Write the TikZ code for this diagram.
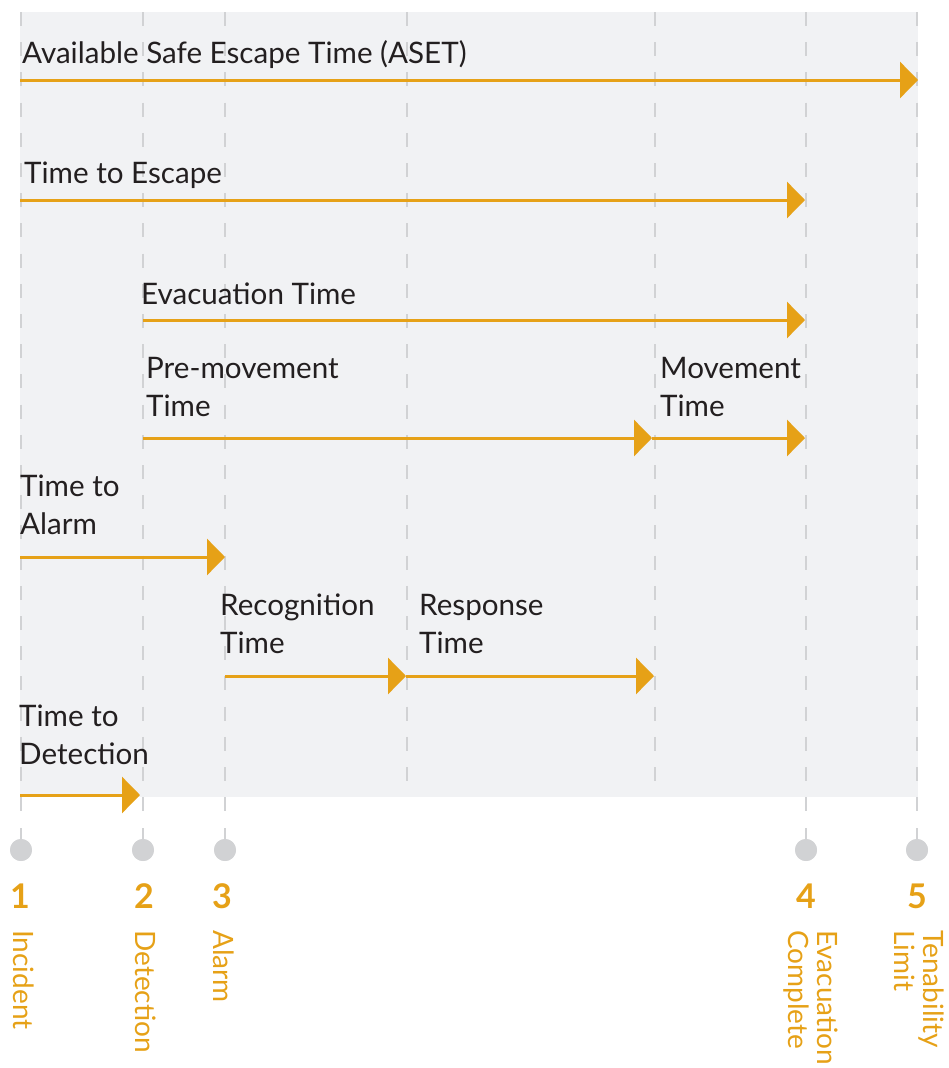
\documentclass[tikz,border=0pt]{standalone}
\usepackage{fontspec}
\setmainfont{Lato}
\usetikzlibrary{arrows.meta}
\definecolor{bgc}{HTML}{F1F2F4}
\definecolor{orc}{HTML}{E6A117}
\definecolor{gridc}{HTML}{D1D2D4}
\definecolor{txc}{HTML}{231F20}
\begin{document}
\begin{tikzpicture}[x=1pt,y=-1pt,
  lbl/.style={anchor=base west,inner sep=0pt,text=txc,align=left,
    font=\fontsize{29.6}{38}\selectfont},
  span/.style={draw=orc,line width=3pt,-{Triangle[length=18pt,width=36pt]}},
  gridln/.style={draw=gridc,line width=2.6pt,dash pattern=on 14pt off 16.2pt},
  stem/.style={draw=gridc,line width=2.6pt},
  evdot/.style={circle,fill=gridc,minimum size=22pt,inner sep=0pt},
  num/.style={anchor=base,inner sep=0pt,text=orc,font=\fontsize{34}{34}\selectfont\bfseries},
  evt/.style={anchor=base west,inner sep=0pt,text=orc,rotate=-90,align=left,
    font=\fontsize{28}{29}\selectfont}]
\useasboundingbox (0,0) rectangle (949,1068);
\fill[bgc] (20,12) rectangle (918,797);
% column coordinates
\coordinate (t1) at (21,12);  \coordinate (b1) at (21,813);
\coordinate (t2) at (143,12); \coordinate (b2) at (143,813);
\coordinate (t3) at (225,12); \coordinate (b3) at (225,813);
\coordinate (ta) at (407,12); \coordinate (ba) at (407,797);
\coordinate (tb) at (655,12); \coordinate (bb) at (655,797);
\coordinate (t4) at (806,12); \coordinate (b4) at (806,813);
\coordinate (t5) at (917,12); \coordinate (b5) at (917,813);
\foreach \c in {1,2,3,a,b,4,5} \draw[gridln] (t\c) -- (b\c);
% event dots
\node[evdot] (e1) at (21,850) {};
\node[evdot] (e2) at (143,850) {};
\node[evdot] (e3) at (225,850) {};
\node[evdot] (e4) at (806,850) {};
\node[evdot] (e5) at (917,850) {};
\coordinate (m1) at (21,828);
\coordinate (m2) at (143,828);
\coordinate (m3) at (225,828);
\coordinate (m4) at (806,828);
\coordinate (m5) at (917,828);
\foreach \c in {1,2,3,4,5} \draw[stem] (m\c) -- (e\c.center);
\foreach \c in {1,2,3,4,5} \node[evdot] at (e\c) {};
% numbers
\node[num] (n1) at (20,908) {1};
\node[num] (n2) at (144,908) {2};
\node[num] (n3) at (222,908) {3};
\node[num] (n4) at (806,908) {4};
\node[num] (n5) at (917,908) {5};
% event labels (base = baseline of last line)
\node[evt] (l1) at (13,930) {Incident};
\node[evt] (l2) at (135,930) {Detection};
\node[evt] (l3) at (213,930) {Alarm};
\node[evt] (l4) at (788,930) {Evacuation\\Complete};
\node[evt] (l5) at (894,930) {Tenability\\Limit};
% row labels (base = baseline of last line)
\node[lbl] (x1) at (22,63) {Available Safe Escape Time (ASET)};
\node[lbl] (x2) at (24,183) {Time to Escape};
\node[lbl] (x3) at (141,304) {Evacuation Time};
\node[lbl] (x4) at (146,416) {Pre-movement\\Time};
\node[lbl] (x5) at (660,416) {Movement\\Time};
\node[lbl] (x6) at (20,534) {Time to\\Alarm};
\node[lbl] (x7) at (220,653) {Recognition\\Time};
\node[lbl] (x8) at (419,653) {Response\\Time};
\node[lbl] (x9) at (19,764) {Time to\\Detection};
% arrow endpoints
\coordinate (a1s) at (20,80);   \coordinate (a1e) at (918,80);
\coordinate (a2s) at (20,200);  \coordinate (a2e) at (805,200);
\coordinate (a3s) at (143,320); \coordinate (a3e) at (805,320);
\coordinate (a4s) at (143,438); \coordinate (a4e) at (652,438);
\coordinate (a5e) at (805,438);
\coordinate (a6s) at (20,557);  \coordinate (a6e) at (225,557);
\coordinate (a7s) at (225,676); \coordinate (a7e) at (406,676);
\coordinate (a8e) at (654,676);
\coordinate (a9s) at (20,795);  \coordinate (a9e) at (140,795);
\draw[span] (a1s) -- (a1e);
\draw[span] (a2s) -- (a2e);
\draw[span] (a3s) -- (a3e);
\draw[span] (a4s) -- (a4e);
\draw[span] (a4e) -- (a5e);
\draw[span] (a6s) -- (a6e);
\draw[span] (a7s) -- (a7e);
\draw[span] (a7e) -- (a8e);
\draw[span] (a9s) -- (a9e);
\end{tikzpicture}
\end{document}
